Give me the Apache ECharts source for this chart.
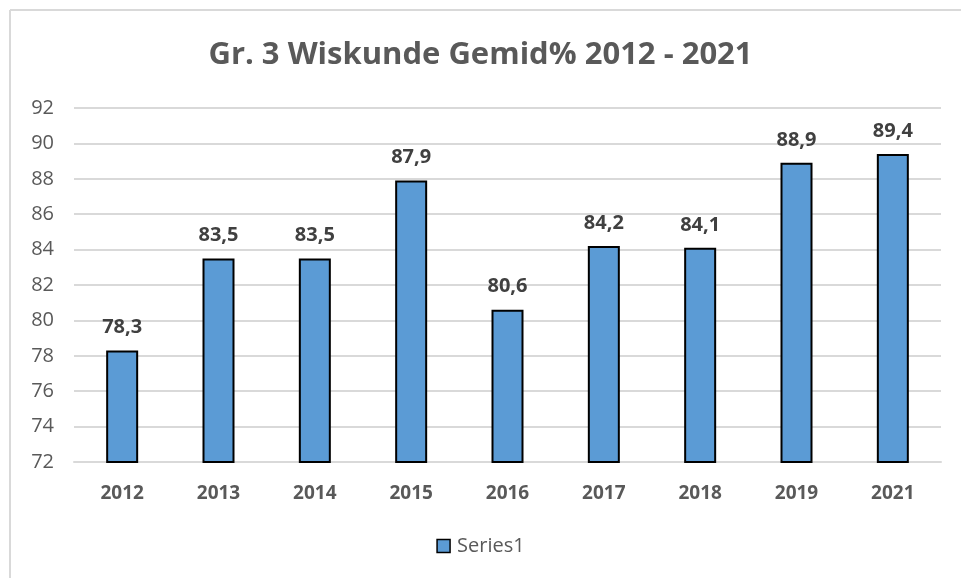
<!DOCTYPE html>
<html>
<head>
<meta charset="utf-8">
<script src="https://cdn.jsdelivr.net/npm/echarts@6/dist/echarts.min.js"></script>
<style>html,body{margin:0;padding:0;background:#fff;}#c{width:961px;height:578px;}</style>
</head>
<body>
<div id="c"></div>
<script>
const categories = ['2012','2013','2014','2015','2016','2017','2018','2019','2021'];
const values = [78.3, 83.5, 83.5, 87.9, 80.6, 84.2, 84.1, 88.9, 89.4];
const seriesName = 'Series1';
const titleText = 'Gr. 3 Wiskunde Gemid% 2012 - 2021';

const chart = echarts.init(document.getElementById('c'));
const FONT = '"Open Sans", sans-serif';
chart.setOption({
  animation: false,
  textStyle: { fontFamily: FONT },
  graphic: [
    { type: 'line', shape: { x1: 10, y1: 10, x2: 961, y2: 10 }, style: { stroke: '#d9d9d9', lineWidth: 2 } },
    { type: 'line', shape: { x1: 10, y1: 10, x2: 10, y2: 578 }, style: { stroke: '#d9d9d9', lineWidth: 2 } }
  ],
  title: {
    text: titleText,
    left: 'center', top: 35,
    textStyle: { fontFamily: FONT, fontSize: 31, fontWeight: 'bold', color: '#595959' }
  },
  legend: {
    data: [seriesName], bottom: 17, left: 'center',
    itemWidth: 13, itemHeight: 13, icon: 'rect',
    itemStyle: { borderColor: '#000', borderWidth: 1.5 },
    textStyle: { fontFamily: FONT, fontSize: 20, color: '#595959', padding: [0, 0, 0, 2] }
  },
  grid: { left: 74, right: 20, top: 108, bottom: 116, containLabel: false, outerBoundsMode: 'none' },
  xAxis: {
    type: 'category', data: categories,
    axisLine: { lineStyle: { color: '#d9d9d9', width: 2 } },
    axisTick: { show: false },
    axisLabel: { fontFamily: FONT, fontSize: 19, fontWeight: 'bold', color: '#595959', margin: 22 }
  },
  yAxis: {
    type: 'value', min: 72, max: 92, interval: 2,
    axisLine: { show: false }, axisTick: { show: false },
    splitLine: { lineStyle: { color: '#d9d9d9', width: 2 } },
    axisLabel: { fontFamily: FONT, fontSize: 20, color: '#595959', margin: 20 }
  },
  series: [{
    name: seriesName, type: 'bar', data: values, barWidth: 32,
    itemStyle: { color: '#5b9bd5', borderColor: '#000', borderWidth: 2 },
    label: {
      show: true, position: 'top', distance: 13,
      fontFamily: FONT, fontSize: 20, fontWeight: 'bold', color: '#404040',
      formatter: p => String(p.value).replace('.', ',')
    }
  }]
});
</script>
</body>
</html>
